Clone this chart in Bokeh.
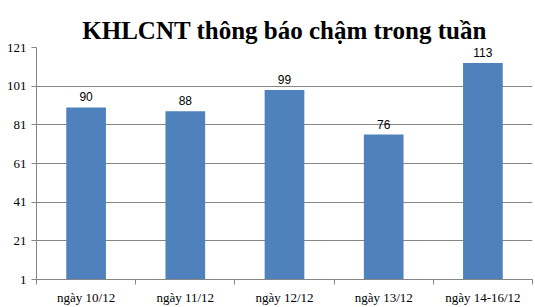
from bokeh.plotting import figure
from bokeh.models import Range1d, FixedTicker, ColumnDataSource
from bokeh.embed import file_html
from bokeh.resources import INLINE
from bokeh.core.properties import value
import numpy as np

categories = ["ngày 10/12", "ngày 11/12", "ngày 12/12", "ngày 13/12", "ngày 14-16/12"]
values = [90, 88, 99, 76, 113]
y_ticks = [1, 21, 41, 61, 81, 101, 121]
title = "KHLCNT thông báo chậm trong tuần"

xs = np.arange(len(categories)) + 0.5
src = ColumnDataSource(dict(x=xs, top=values, label=[str(v) for v in values]))

p = figure(width=535, height=307, output_backend="svg", toolbar_location=None,
           x_range=Range1d(0, len(categories)), y_range=Range1d(1, 121),
           min_border_left=36, min_border_right=3, min_border_bottom=28, min_border_top=47,
           title=title)
p.outline_line_color = None
p.background_fill_color = "white"
p.border_fill_color = "white"

p.title.align = "center"
p.title.text_font = "Liberation Serif"
p.title.text_font_size = "25px"
p.title.text_font_style = "bold"
p.title.text_color = "black"
p.title.standoff = 8

p.vbar(x="x", top="top", bottom=1, width=0.4, source=src, color="#4F81BD", line_color=None)
p.text(x="x", y="top", text="label", source=src, text_align="center", text_baseline="bottom",
       y_offset=-6, text_font=value("Liberation Sans"), text_font_size="12px", text_color="black")

p.yaxis.ticker = FixedTicker(ticks=y_ticks)
p.yaxis.major_label_text_font = "Liberation Serif"
p.yaxis.major_label_text_font_size = "13px"
p.yaxis.major_label_text_color = "black"
p.yaxis.axis_line_color = "#868686"
p.yaxis.major_tick_line_color = "#868686"
p.yaxis.major_tick_out = 5
p.yaxis.major_tick_in = 0
p.yaxis.minor_tick_line_color = None
p.yaxis.major_label_standoff = 5

p.xaxis.ticker = FixedTicker(ticks=list(xs), minor_ticks=list(range(len(categories) + 1)))
p.xaxis.major_label_overrides = {float(x): c for x, c in zip(xs, categories)}
p.xaxis.major_label_text_font = "Liberation Serif"
p.xaxis.major_label_text_font_size = "13px"
p.xaxis.major_label_text_color = "black"
p.xaxis.axis_line_color = "#868686"
p.xaxis.major_tick_line_color = None
p.xaxis.minor_tick_line_color = "#868686"
p.xaxis.minor_tick_out = 5
p.xaxis.minor_tick_in = 0
p.xaxis.major_label_standoff = 4

p.xgrid.grid_line_color = None
p.ygrid.ticker = FixedTicker(ticks=y_ticks)
p.ygrid.grid_line_color = "#868686"

open("out.html", "w").write(file_html(p, INLINE))
